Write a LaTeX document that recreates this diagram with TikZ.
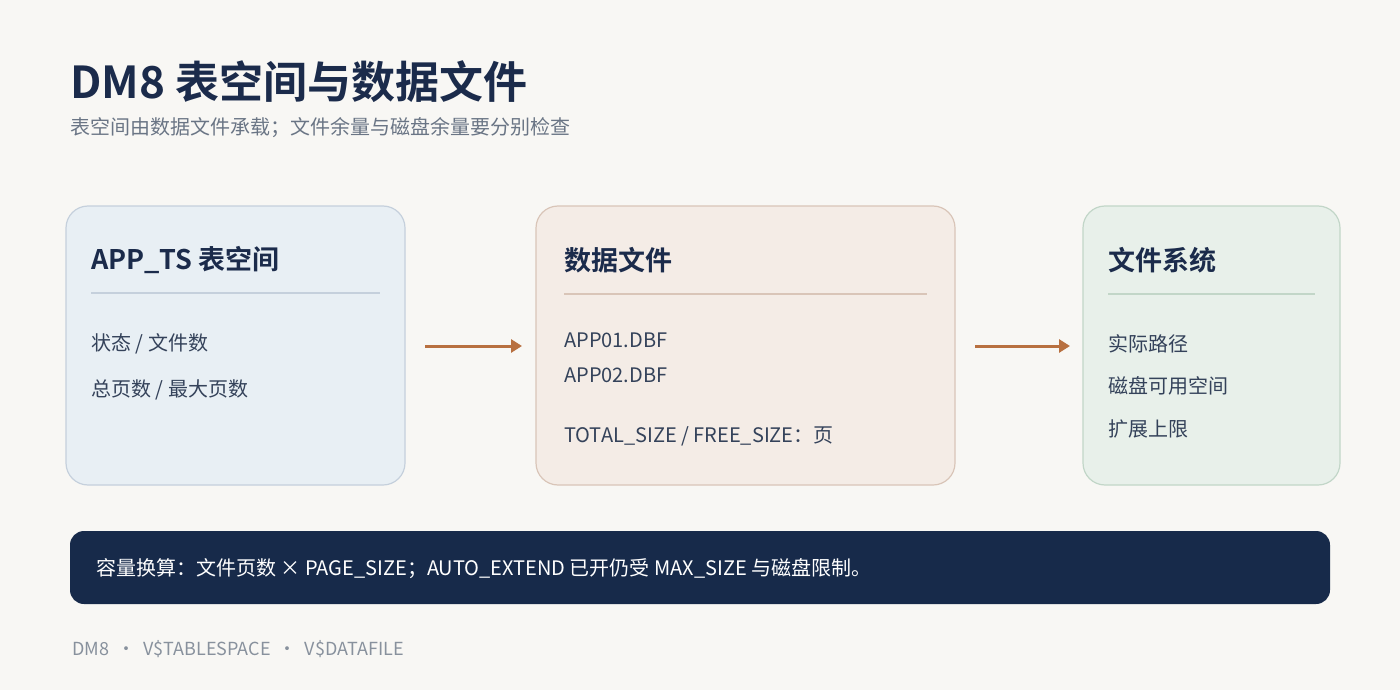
\documentclass[tikz,border=0pt]{standalone}
\usepackage{fontspec}
\setmainfont{Noto Sans CJK SC}[BoldFont={Noto Sans CJK SC Bold}]
\begin{document}
\begin{tikzpicture}[x=1pt,y=-1pt,
  box/.style={rounded corners=22pt,line width=1.2pt},
  head/.style={anchor=west,font=\bfseries\fontsize{27}{30}\selectfont,text=navy},
  body/.style={anchor=west,font=\fontsize{20}{24}\selectfont,text=bodyc},
  arr/.style={line width=3pt,draw=arrc,-{Triangle[length=11pt,width=13pt]}}]
\usetikzlibrary{arrows.meta}
\definecolor{bg}{HTML}{F8F7F4}
\definecolor{navy}{HTML}{1B2B4B}
\definecolor{bodyc}{HTML}{34425A}
\definecolor{graytxt}{HTML}{6A7585}
\definecolor{arrc}{HTML}{B87040}
\definecolor{f1}{HTML}{E8EFF4}\definecolor{d1}{HTML}{C5D0DC}
\definecolor{f2}{HTML}{F4ECE6}\definecolor{d2}{HTML}{D9C5B8}
\definecolor{f3}{HTML}{E8F0EA}\definecolor{d3}{HTML}{C2D6C8}
\definecolor{bar}{HTML}{172A4A}
\fill[bg] (0,0) rectangle (1400,690);
\useasboundingbox (0,0) rectangle (1400,690);
\node[anchor=west,inner sep=0,font=\bfseries\fontsize{44}{48}\selectfont,text=navy] (title) at (70,82) {DM8 表空间与数据文件};
\node[anchor=west,inner sep=0,font=\fontsize{20}{24}\selectfont,text=graytxt] (sub) at (70,128) {表空间由数据文件承载；文件余量与磁盘余量要分别检查};
% box 1
\draw[box,fill=f1,draw=d1] (66,206) rectangle (405,485);
\node[head,inner sep=0] (h1) at (91,260) {APP\_TS 表空间};
\draw[d1,line width=1.2pt] (91,293) -- (380,293);
\node[body,inner sep=0] (a1) at (91,344) {状态 / 文件数};
\node[body,inner sep=0] (a2) at (91,390) {总页数 / 最大页数};
% box 2
\draw[box,fill=f2,draw=d2] (536,206) rectangle (955,485);
\node[head,inner sep=0] (h2) at (564,260) {数据文件};
\draw[d2,line width=1.2pt] (564,294) -- (927,294);
\node[body,inner sep=0] (b1) at (564,340) {APP01.DBF};
\node[body,inner sep=0] (b2) at (564,375) {APP02.DBF};
\node[body,inner sep=0] (b3) at (564,436) {TOTAL\_SIZE / FREE\_SIZE：页};
% box 3
\draw[box,fill=f3,draw=d3] (1083,206) rectangle (1340,485);
\node[head,inner sep=0] (h3) at (1108,260) {文件系统};
\draw[d3,line width=1.2pt] (1108,294) -- (1315,294);
\node[body,inner sep=0] (c1) at (1108,344) {实际路径};
\node[body,inner sep=0] (c2) at (1108,386) {磁盘可用空间};
\node[body,inner sep=0] (c3) at (1108,429) {扩展上限};
% arrows
\coordinate (p1) at (425,346); \coordinate (q1) at (522,346);
\coordinate (p2) at (975,346); \coordinate (q2) at (1070,346);
\draw[arr] (p1) -- (q1);
\draw[arr] (p2) -- (q2);
% bar
\fill[bar,rounded corners=14pt] (70,531) rectangle (1330,604);
\node[anchor=west,inner sep=0,font=\fontsize{20}{24}\selectfont,text=white] (note) at (96,569) {容量换算：文件页数 × PAGE\_SIZE；AUTO\_EXTEND 已开仍受 MAX\_SIZE 与磁盘限制。};
\node[anchor=west,inner sep=0,font=\fontsize{18}{22}\selectfont,text=graytxt!80] (foot) at (72,649) {DM8 \ \textbullet\ \ V\$TABLESPACE \ \textbullet\ \ V\$DATAFILE};
\end{tikzpicture}
\end{document}
